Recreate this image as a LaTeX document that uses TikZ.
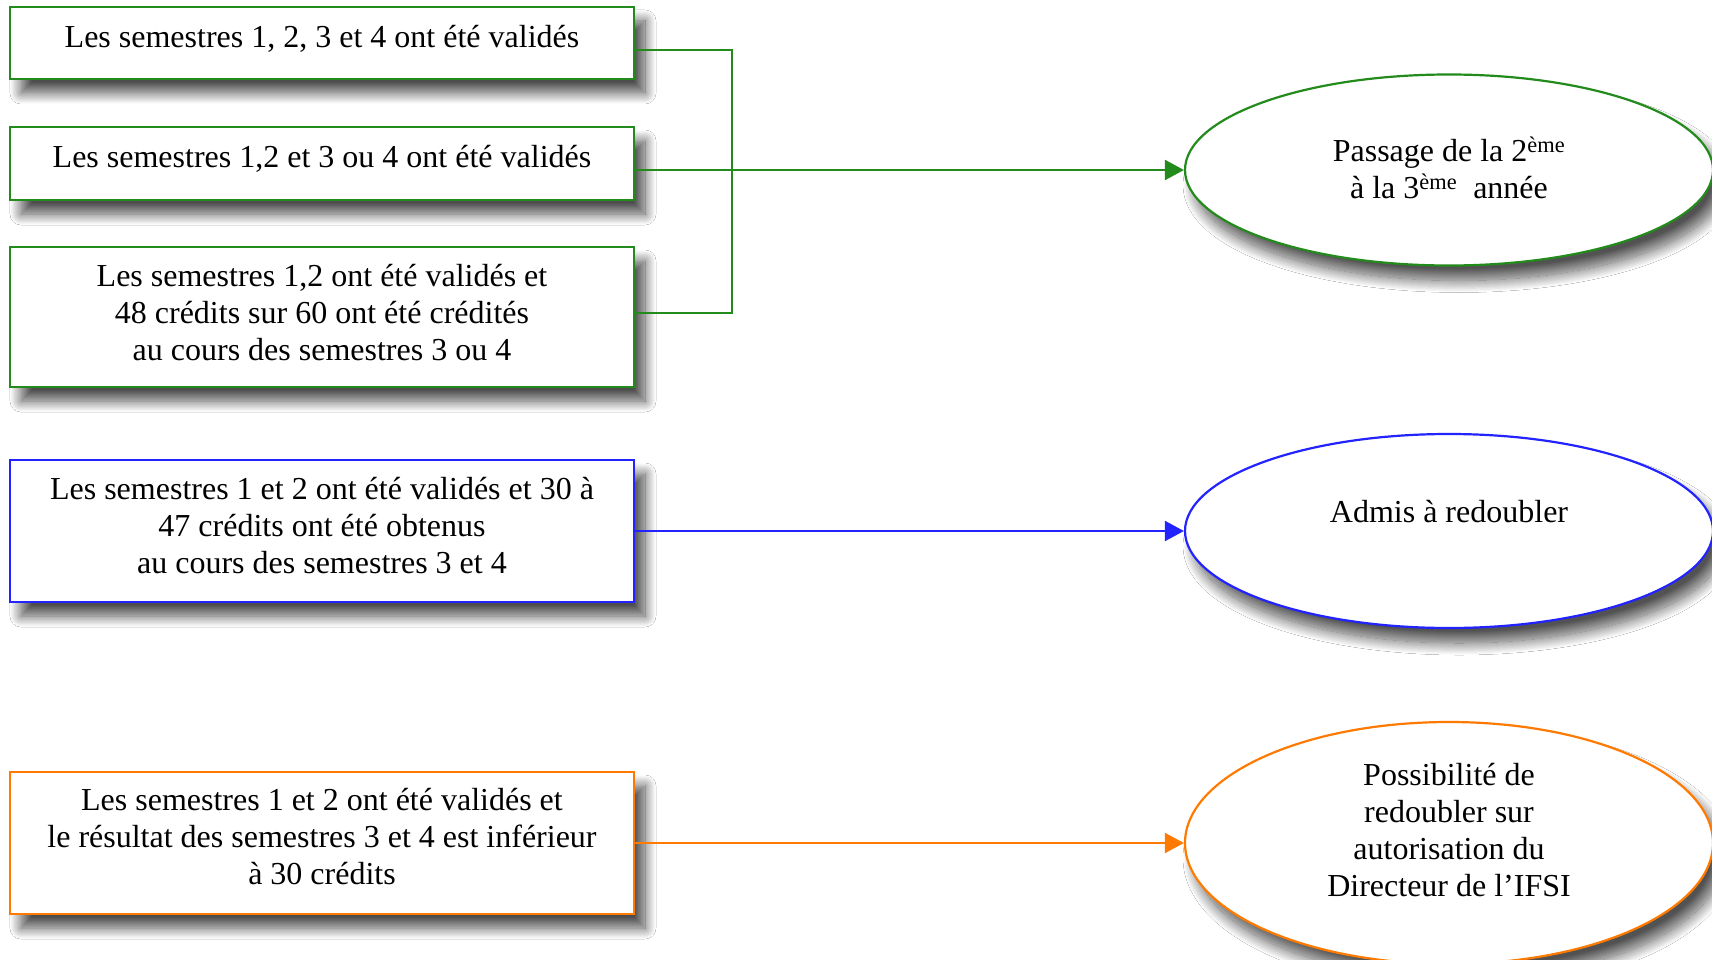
\documentclass[tikz,border=0pt]{standalone}
\usepackage{fontspec}
\setmainfont{Liberation Serif}
\usetikzlibrary{arrows.meta,shapes.geometric,shadows.blur}
\definecolor{cgreen}{RGB}{34,139,28}
\definecolor{cblue}{RGB}{35,35,255}
\definecolor{corange}{RGB}{255,122,0}
\begin{document}
\begin{tikzpicture}[x=1pt,y=-1pt,
  frame/.style={draw=#1, line width=2.2pt, fill=white, minimum width=624pt, inner sep=0pt,
    blur shadow={shadow xshift=11pt, shadow yshift=-14pt, shadow blur radius=11pt, shadow blur steps=24, shadow opacity=70}},
  oval/.style={ellipse, draw=#1, line width=2.2pt, fill=white, minimum width=528pt, inner sep=0pt,
    blur shadow={shadow xshift=10pt, shadow yshift=-15pt, shadow blur radius=12pt, shadow blur steps=24, shadow opacity=68}},
  txt/.style={align=center, font=\fontsize{32}{37}\selectfont, inner sep=0pt},
  conn/.style={draw=#1, line width=2pt},
  arr/.style={draw=#1, line width=2pt, -{Triangle[length=19pt,width=20pt]}}
]
\fill[white] (0,0) rectangle (1712,960);
\useasboundingbox (0,0) rectangle (1712,960);
\clip (0,0) rectangle (1712,960);

% left boxes
\node[frame=cgreen, minimum height=72pt] (b1) at (322,43) {};
\node[txt] (t1) at ([yshift=4pt]b1.center) {Les semestres 1, 2, 3 et 4 ont été validés};

\node[frame=cgreen, minimum height=73pt] (b2) at (322,163.5) {};
\node[txt] (t2) at ([yshift=5pt]b2.center) {Les semestres 1,2 et 3 ou 4 ont été validés};

\node[frame=cgreen, minimum height=140pt] (b3) at (322,317) {};
\node[txt] (t3) at ([yshift=4pt]b3.center) {Les semestres 1,2 ont été validés et\\48 crédits sur 60 ont été crédités\\au cours des semestres 3 ou 4};

\node[frame=cblue, minimum height=142pt] (b4) at (322,531) {};
\node[txt] (t4) at ([yshift=5.5pt]b4.center) {Les semestres 1 et 2 ont été validés et 30 à\\47 crédits ont été obtenus\\au cours des semestres 3 et 4};

\node[frame=corange, minimum height=142pt] (b5) at (322,843) {};
\node[txt] (t5) at ([yshift=6pt]b5.center) {Les semestres 1 et 2 ont été validés et\\le résultat des semestres 3 et 4 est inférieur\\à 30 crédits};

% ellipses
\node[oval=cgreen, minimum height=191pt] (e1) at (1449,170) {};
\node[txt] (u1) at ([yshift=2.5pt]e1.center) {Passage de la 2\textsuperscript{ème}\\à la 3\textsuperscript{ème}\ \ année};

\node[oval=cblue, minimum height=194pt] (e2) at (1449,531) {};
\node[txt] (u2) at ([yshift=19pt]e2.center) {Admis à redoubler};

\node[oval=corange, minimum height=242pt] (e3) at (1449,843) {};
\node[txt] (u3) at ([yshift=13pt]e3.center) {Possibilité de\\redoubler sur\\autorisation du\\Directeur de l’IFSI};

% connectors
\draw[conn=cgreen] ([yshift=-7pt]b1.east) -- ++(97,0) |- ([yshift=4pt]b3.east);
\draw[arr=cgreen] ([yshift=-6.5pt]b2.east) -- (e1.west);
\draw[arr=cblue] (b4.east) -- (e2.west);
\draw[arr=corange] (b5.east) -- (e3.west);
\end{tikzpicture}
\end{document}
